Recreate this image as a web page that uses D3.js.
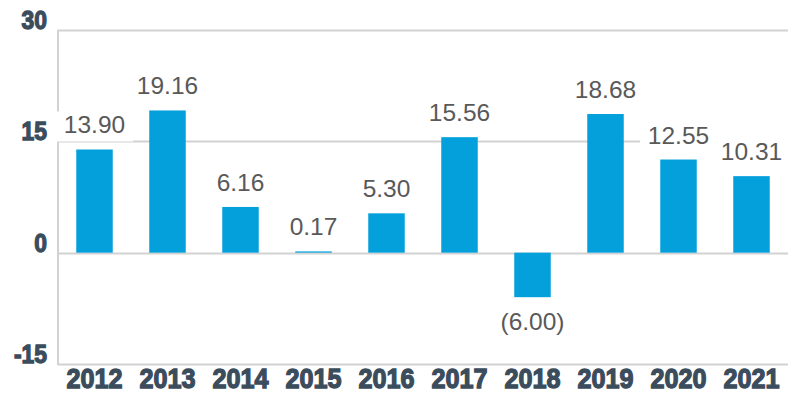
<!DOCTYPE html>
<html>
<head>
<meta charset="utf-8">
<script src="https://cdn.jsdelivr.net/npm/d3@7"></script>
<style>
  body { margin: 0; background: #fff; }
  text { font-family: "Liberation Sans", Arial, sans-serif; }
</style>
</head>
<body>
<svg id="chart" width="800" height="400"></svg>
<script>
const years = ['2012','2013','2014','2015','2016','2017','2018','2019','2020','2021']
const values = [13.90, 19.16, 6.16, 0.17, 5.30, 15.56, -6.00, 18.68, 12.55, 10.31]
const yTicks = [-15, 0, 15, 30]

const svg = d3.select('#chart')
const plotLeft = 58, plotRight = 788, plotTop = 30, plotBottom = 364
const axisColor = '#3b4c5c'

const x = d3.scaleBand().domain(years).range([plotLeft, plotRight]).paddingInner(0.5).paddingOuter(0.25)
const y = d3.scaleLinear().domain([-15, 30]).range([plotBottom, plotTop])

// grid lines
svg.append('g').selectAll('line').data(yTicks).enter().append('line')
  .attr('x1', plotLeft).attr('x2', plotRight)
  .attr('y1', d => Math.round(y(d)) + 0.5).attr('y2', d => Math.round(y(d)) + 0.5)
  .attr('stroke', '#d2d2d2').attr('stroke-width', 2)

svg.append('line')
  .attr('x1', plotLeft).attr('x2', plotLeft).attr('y1', plotTop).attr('y2', plotBottom + 1)
  .attr('stroke', '#d2d2d2').attr('stroke-width', 2)

// y tick labels (heavy, condensed)
svg.append('g').selectAll('text').data(yTicks).enter().append('text')
  .attr('transform', d => `translate(47,${y(d) - 1}) scale(0.88,1)`)
  .attr('text-anchor', 'end')
  .attr('font-size', 26).attr('font-weight', 'bold')
  .attr('fill', axisColor).attr('stroke', axisColor).attr('stroke-width', 1.3)
  .text(d => d)

// bars
svg.append('g').selectAll('rect').data(values).enter().append('rect')
  .attr('x', (d, i) => x(years[i]))
  .attr('width', x.bandwidth())
  .attr('y', d => y(Math.max(0, d)))
  .attr('height', d => Math.abs(y(d) - y(0)))
  .attr('fill', '#04a0dc')

// value labels with white backing
const fmt = d => d < 0 ? '(' + d3.format('.2f')(-d) + ')' : d3.format('.2f')(d)
const labels = svg.append('g').selectAll('g').data(values).enter().append('g')
  .attr('transform', (d, i) => {
    const cx = x(years[i]) + x.bandwidth() / 2
    const ty = d >= 0 ? y(d) - 16 : y(d) + 33
    return `translate(${cx},${ty})`
  })
labels.append('rect')
  .attr('x', d => -fmt(d).length * 6.7 - 5).attr('y', -22)
  .attr('width', d => fmt(d).length * 13.4 + 10).attr('height', 30)
  .attr('fill', '#fff')
labels.append('text')
  .attr('text-anchor', 'middle')
  .attr('font-size', 24.5).attr('fill', '#595959')
  .text(fmt)

// year labels (heavy, condensed)
svg.append('g').selectAll('text').data(years).enter().append('text')
  .attr('transform', d => `translate(${x(d) + x.bandwidth() / 2},388) scale(0.9,1)`)
  .attr('text-anchor', 'middle')
  .attr('font-size', 28).attr('font-weight', 'bold')
  .attr('fill', axisColor).attr('stroke', axisColor).attr('stroke-width', 1.3)
  .text(d => d)
</script>
</body>
</html>
